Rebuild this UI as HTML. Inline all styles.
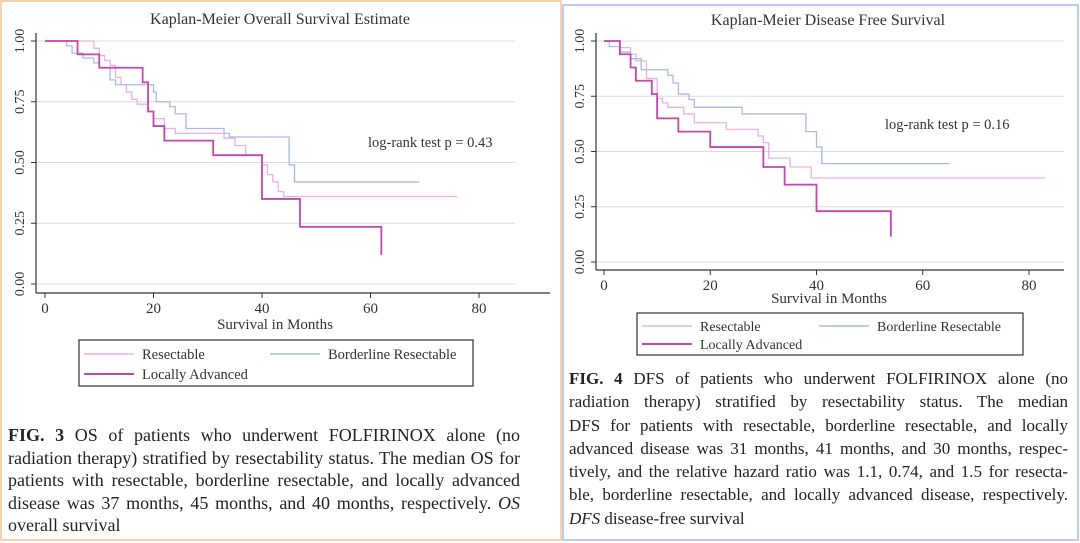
<!DOCTYPE html>
<html><head><meta charset="utf-8">
<style>
html,body{margin:0;padding:0;background:#fff;}
body{width:1080px;height:543px;position:relative;overflow:hidden;font-family:"Liberation Serif",serif;color:#222;}
.panel{position:absolute;box-sizing:border-box;}
.cap{position:absolute;font-size:18px;line-height:22.5px;}
.cap span{display:block;text-align:justify;text-align-last:justify;white-space:nowrap;}
.cap span.last{text-align-last:left;}
svg text{font-family:"Liberation Serif",serif;fill:#333;}
</style></head>
<body>
<div class="panel" style="left:0;top:0;width:562px;height:541px;border:2px solid #f8d2ac;"></div>
<div class="panel" style="left:562px;top:4px;width:517px;height:537px;border:2px solid #b9cdf0;"></div>
<svg id="chart" width="1080" height="543" style="position:absolute;left:0;top:0"></svg>
<div class="cap" style="left:8px;top:424px;width:512px;">
<span><b>FIG. 3</b> OS of patients who underwent FOLFIRINOX alone (no</span>
<span>radiation therapy) stratified by resectability status. The median OS for</span>
<span>patients with resectable, borderline resectable, and locally advanced</span>
<span>disease was 37 months, 45 months, and 40 months, respectively. <i>OS</i></span>
<span class="last">overall survival</span></div>
<div class="cap" style="left:569px;top:367px;width:499px;font-size:17px;line-height:23.3px;">
<span><b>FIG. 4</b> DFS of patients who underwent FOLFIRINOX alone (no</span>
<span>radiation therapy) stratified by resectability status. The median</span>
<span>DFS for patients with resectable, borderline resectable, and locally</span>
<span>advanced disease was 31 months, 41 months, and 30 months, respec-</span>
<span>tively, and the relative hazard ratio was 1.1, 0.74, and 1.5 for resecta-</span>
<span>ble, borderline resectable, and locally advanced disease, respectively.</span>
<span class="last"><i>DFS</i> disease-free survival</span></div>
<script>
const xTicks=[0,20,40,60,80];
const yTicks=[0,0.25,0.5,0.75,1];
const yTickLabels=["0.00","0.25","0.50","0.75","1.00"];
const seriesNames=["Resectable","Borderline Resectable","Locally Advanced"];
// OS steps [month, survival]
const osResectable=[[0,1],[9,0.97],[10,0.94],[11,0.92],[12,0.9],[13,0.85],[14,0.82],[15,0.79],[16,0.76],[17,0.74],[19,0.71],[20,0.68],[22,0.64],[24,0.62],[33,0.6],[35,0.57],[37,0.53],[40,0.49],[41,0.45],[42,0.42],[43,0.38],[44,0.36],[76,0.36]];
const osBorderline=[[0,1],[4,0.98],[5,0.95],[7,0.93],[9,0.91],[10,0.89],[12,0.84],[13,0.82],[20,0.79],[20.5,0.75],[23,0.73],[24,0.7],[26,0.64],[33,0.62],[34,0.605],[45,0.49],[46,0.42],[69,0.42]];
const osLocally=[[0,1],[6,0.945],[10,0.89],[18,0.83],[19,0.71],[20,0.65],[22,0.59],[31,0.53],[40,0.35],[47,0.235],[62,0.235],[62,0.12]];
// DFS steps
const dfsResectable=[[0,1],[3,0.97],[5,0.94],[6,0.91],[8,0.83],[10,0.74],[11,0.72],[12,0.7],[15,0.67],[17,0.63],[23,0.6],[29,0.57],[30,0.54],[31,0.47],[35,0.43],[39,0.38],[83,0.38]];
const dfsBorderline=[[0,1],[1,0.975],[3,0.95],[5,0.92],[7,0.87],[12,0.845],[13,0.81],[14,0.76],[16,0.735],[17,0.7],[26,0.67],[38,0.59],[40,0.52],[41,0.445],[65,0.445]];
const dfsLocally=[[0,1],[3,0.94],[5,0.88],[6,0.82],[9,0.76],[10,0.65],[14,0.59],[20,0.52],[30,0.43],[34,0.35],[40,0.23],[54,0.23],[54,0.115]];
const colors=["#eab0e4","#a9b9e2","#c446ab"];
const widths=[1.3,1.3,1.8];

const svg=document.getElementById('chart');
const NS='http://www.w3.org/2000/svg';
function mk(tag,attrs,parent){const e=document.createElementNS(NS,tag);for(const k in attrs)e.setAttribute(k,attrs[k]);(parent||svg).appendChild(e);return e;}

function drawChart(cfg){
  const g=mk('g',{});
  
  
  const xs=v=>cfg.x0+(cfg.x80-cfg.x0)*v/80;
  const ys=v=>cfg.y0+(cfg.y1-cfg.y0)*v;
  const t=mk('text',{x:cfg.titleX,y:cfg.titleY,'text-anchor':'middle','font-size':16},g);t.textContent=cfg.title;
  
  
  yTicks.forEach((v,i)=>{
    const l=mk('line',{x1:cfg.axX,x2:cfg.gridEnd,y1:ys(v),y2:ys(v),stroke:'#dcdcdc','stroke-width':1},g);
    
    
    mk('line',{x1:cfg.axX-5,x2:cfg.axX,y1:ys(v),y2:ys(v),stroke:'#333'},g);
    const tx=mk('text',{x:0,y:0,'font-size':14,'text-anchor':'middle',transform:`translate(${cfg.axX-12},${ys(v)}) rotate(-90)`},g);
    tx.textContent=yTickLabels[i];
    
    
  });
  mk('line',{x1:cfg.axX,x2:cfg.axX,y1:cfg.axTop,y2:cfg.axY,stroke:'#333','stroke-width':1.2},g);
  mk('line',{x1:cfg.axX,x2:cfg.axRight,y1:cfg.axY,y2:cfg.axY,stroke:'#333','stroke-width':1.2},g);
  xTicks.forEach(v=>{
    mk('line',{x1:xs(v),x2:xs(v),y1:cfg.axY,y2:cfg.axY+5,stroke:'#333'},g);
    const tx=mk('text',{x:xs(v),y:cfg.axY+20,'font-size':15,'text-anchor':'middle'},g);
    tx.textContent=v;
    
    
  });
  const xt=mk('text',{x:cfg.xTitleX,y:cfg.xTitleY,'font-size':15,'text-anchor':'middle'},g);xt.textContent='Survival in Months';
  
  
  const lr=mk('text',{x:cfg.lrX,y:cfg.lrY,'font-size':14.5},g);lr.textContent=cfg.lr;
  
  
  cfg.series.forEach((s,i)=>{
    let d=`M${xs(s[0][0])},${ys(s[0][1])}`;
    for(let k=1;k<s.length;k++){d+=` H${xs(s[k][0])} V${ys(s[k][1])}`;}
    const p=mk('path',{d:d,fill:'none',stroke:colors[i],'stroke-width':widths[i]},g);
    
    
  });
  const L=cfg.leg;
  const lb=mk('rect',{x:L.x,y:L.y,width:L.w,height:L.h,fill:'none',stroke:'#333','stroke-width':1.2},g);
  
  
  const pos=[[L.x+5,L.r1],[L.x+L.col2,L.r1],[L.x+5,L.r2]];
  seriesNames.forEach((n,i)=>{
    const [px,py]=pos[i];
    mk('line',{x1:px,x2:px+50,y1:py,y2:py,stroke:colors[i],'stroke-width':widths[i]+0.3},g);
    const tx=mk('text',{x:px+58,y:py+5,'font-size':L.fs},g);tx.textContent=n;
    
    
  });
}

drawChart({name:'os-chart',title:'Kaplan-Meier Overall Survival Estimate',titleX:280,titleY:24,
  x0:45,x80:479,y0:284,y1:41,axX:36,axTop:33,axY:293,axRight:550,gridEnd:515,
  xTitleX:275,xTitleY:329,lr:'log-rank test p = 0.43',lrX:368,lrY:147,
  series:[osResectable,osBorderline,osLocally],
  leg:{x:79,y:340,w:394,h:46,r1:354,r2:374,col2:191,fs:14.5}});
drawChart({name:'dfs-chart',title:'Kaplan-Meier Disease Free Survival',titleX:828,titleY:25,
  x0:604,x80:1029,y0:262,y1:41,axX:596,axTop:33,axY:270,axRight:1064,gridEnd:1064,
  xTitleX:829,xTitleY:303,lr:'log-rank test p = 0.16',lrX:885,lrY:129,
  series:[dfsResectable,dfsBorderline,dfsLocally],
  leg:{x:637,y:313,w:386,h:42,r1:326,r2:344,col2:182,fs:14}});
</script>
</body></html>
